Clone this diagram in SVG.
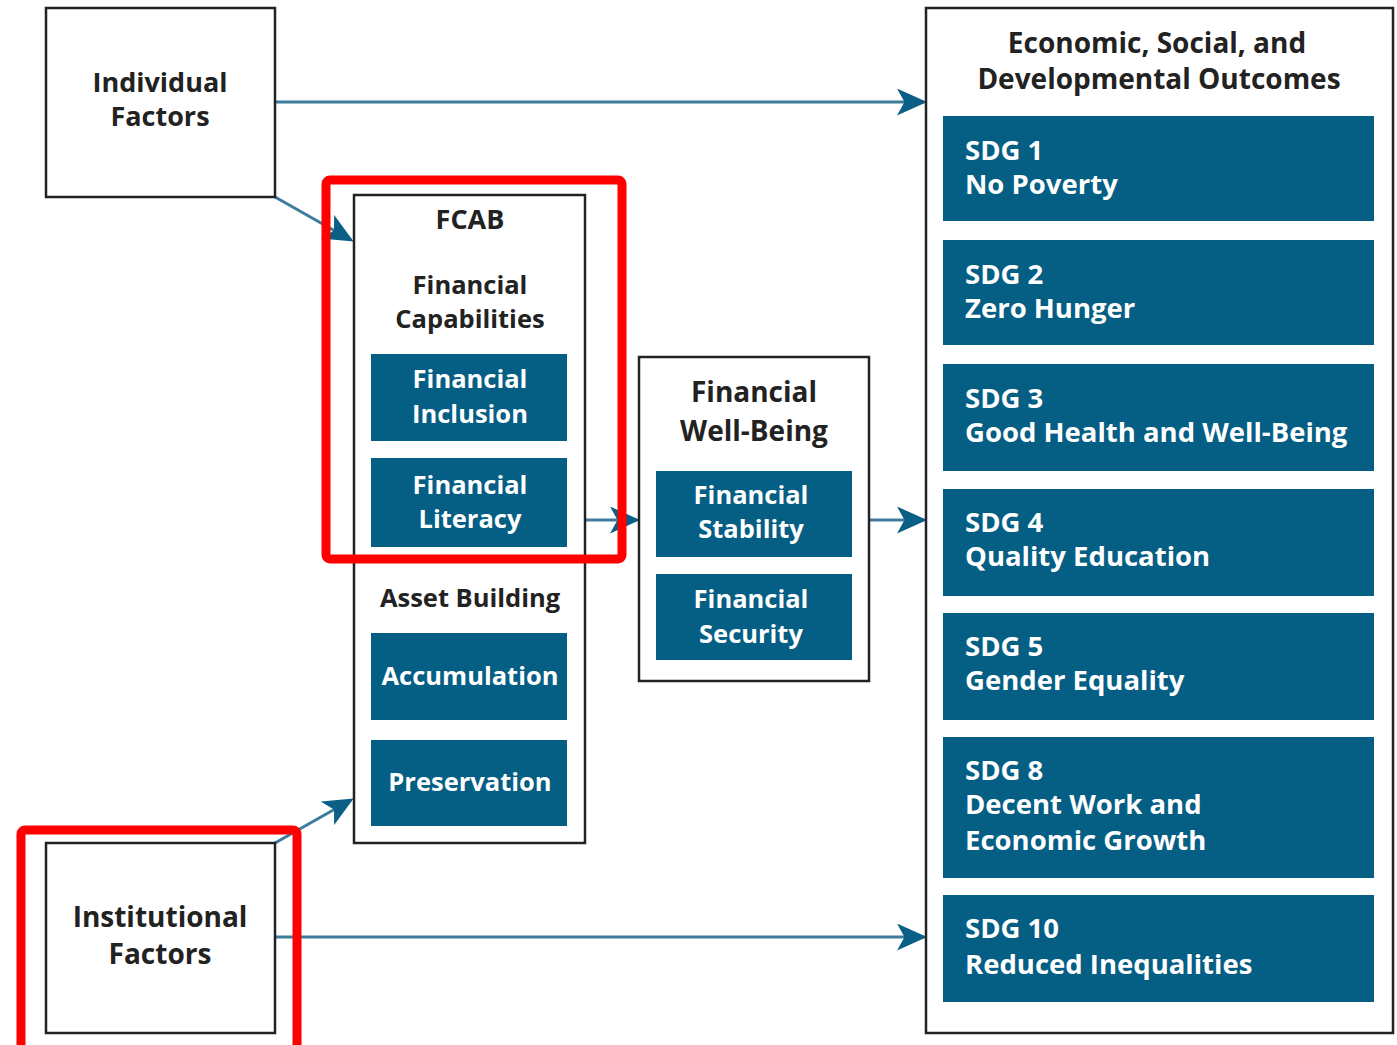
<svg xmlns="http://www.w3.org/2000/svg" width="1397" height="1045" viewBox="0 0 1397 1045">
<style>
.box{fill:#fff;stroke:#222;stroke-width:2.5}
.blue{fill:#055e84}
.t{font-family:"Open Sans","Liberation Sans",sans-serif;font-weight:700;font-size:25.5px;fill:#222;text-anchor:middle}
.h{font-family:"Open Sans","Liberation Sans",sans-serif;font-weight:700;font-size:28px;fill:#222;text-anchor:middle}
.f{font-family:"Open Sans","Liberation Sans",sans-serif;font-weight:700;font-size:27px;fill:#222;text-anchor:middle}
.w{font-family:"Open Sans","Liberation Sans",sans-serif;font-weight:700;font-size:25.5px;fill:#fff;text-anchor:middle}
.s{font-family:"Open Sans","Liberation Sans",sans-serif;font-weight:700;font-size:27.5px;fill:#fff}
.c{stroke:#3d7c9c;stroke-width:3;fill:none;marker-end:url(#ah)}
.red{fill:none;stroke:#f00;stroke-width:9}
</style>
<defs>
<marker id="ah" markerWidth="10" markerHeight="9" refX="9" refY="4.5" orient="auto" markerUnits="strokeWidth">
<path d="M0,0 L10,4.5 L0,9 L2.5,4.5 Z" fill="#0a5f86"/>
</marker>
</defs>
<g id="connectors">
<line class="c" x1="275" y1="102" x2="924" y2="102"/>
<line class="c" x1="275" y1="197" x2="351" y2="240"/>
<line class="c" x1="275" y1="843" x2="351" y2="800"/>
<line class="c" x1="275" y1="937" x2="924" y2="937"/>
<line class="c" x1="585" y1="520" x2="637" y2="520"/>
<line class="c" x1="869" y1="520" x2="924" y2="520"/>
</g>
<g id="individual">
<rect class="box" x="46" y="8" width="229" height="189"/>
<text class="f" x="160" y="92">Individual</text>
<text class="f" x="160" y="126">Factors</text>
</g>
<g id="institutional">
<rect class="box" x="46" y="843" width="229" height="190"/>
<text class="h" x="160" y="927">Institutional</text>
<text class="h" x="160" y="964">Factors</text>
</g>
<g id="fcab">
<rect class="box" x="354" y="195" width="231" height="648"/>
<text class="f" x="470" y="229">FCAB</text>
<text class="t" x="470" y="294">Financial</text>
<text class="t" x="470" y="328">Capabilities</text>
<text class="t" x="470" y="607">Asset Building</text>
</g>
<g id="financial-inclusion">
<rect class="blue" x="371" y="354" width="196" height="87"/>
<text class="w" x="470" y="388">Financial</text>
<text class="w" x="470" y="423">Inclusion</text>
</g>
<g id="financial-literacy">
<rect class="blue" x="371" y="458" width="196" height="89"/>
<text class="w" x="470" y="494">Financial</text>
<text class="w" x="470" y="528">Literacy</text>
</g>
<g id="accumulation">
<rect class="blue" x="371" y="633" width="196" height="87"/>
<text class="w" x="470" y="685">Accumulation</text>
</g>
<g id="preservation">
<rect class="blue" x="371" y="740" width="196" height="86"/>
<text class="w" x="470" y="791">Preservation</text>
</g>
<g id="fwb">
<rect class="box" x="639" y="357" width="230" height="324"/>
<text class="h" x="754" y="402">Financial</text>
<text class="h" x="754" y="441">Well-Being</text>
</g>
<g id="financial-stability">
<rect class="blue" x="656" y="471" width="196" height="86"/>
<text class="w" x="751" y="504">Financial</text>
<text class="w" x="751" y="538">Stability</text>
</g>
<g id="financial-security">
<rect class="blue" x="656" y="574" width="196" height="86"/>
<text class="w" x="751" y="608">Financial</text>
<text class="w" x="751" y="643">Security</text>
</g>
<g id="outcomes">
<rect class="box" x="926" y="8" width="467" height="1025"/>
<text class="h" x="1157" y="53">Economic, Social, and</text>
<text class="h" x="1159" y="89">Developmental Outcomes</text>
</g>
<g id="sdg1">
<rect class="blue" x="943" y="116" width="431" height="105"/>
<text class="s" x="965" y="160">SDG 1</text>
<text class="s" x="965" y="194">No Poverty</text>
</g>
<g id="sdg2">
<rect class="blue" x="943" y="240" width="431" height="105"/>
<text class="s" x="965" y="284">SDG 2</text>
<text class="s" x="965" y="318">Zero Hunger</text>
</g>
<g id="sdg3">
<rect class="blue" x="943" y="364" width="431" height="107"/>
<text class="s" x="965" y="408">SDG 3</text>
<text class="s" x="965" y="442">Good Health and Well-Being</text>
</g>
<g id="sdg4">
<rect class="blue" x="943" y="489" width="431" height="107"/>
<text class="s" x="965" y="532">SDG 4</text>
<text class="s" x="965" y="566">Quality Education</text>
</g>
<g id="sdg5">
<rect class="blue" x="943" y="613" width="431" height="107"/>
<text class="s" x="965" y="656">SDG 5</text>
<text class="s" x="965" y="690">Gender Equality</text>
</g>
<g id="sdg8">
<rect class="blue" x="943" y="737" width="431" height="141"/>
<text class="s" x="965" y="780">SDG 8</text>
<text class="s" x="965" y="814">Decent Work and</text>
<text class="s" x="965" y="850">Economic Growth</text>
</g>
<g id="sdg10">
<rect class="blue" x="943" y="895" width="431" height="107"/>
<text class="s" x="965" y="938">SDG 10</text>
<text class="s" x="965" y="974">Reduced Inequalities</text>
</g>
<g id="highlights">
<rect class="red" x="326" y="180" width="296" height="379" rx="4"/>
<rect class="red" x="21" y="830" width="276" height="225" rx="4"/>
</g>
</svg>
